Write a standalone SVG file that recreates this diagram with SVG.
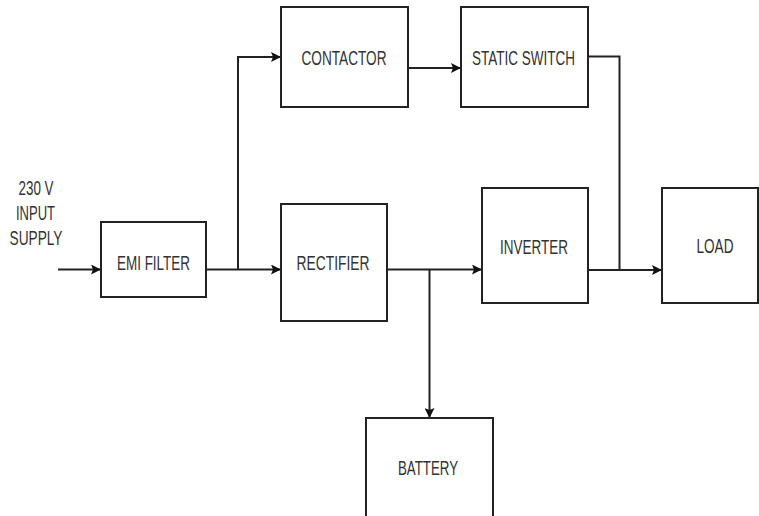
<svg xmlns="http://www.w3.org/2000/svg" width="759" height="516" viewBox="0 0 759 516">
<style>
.box{fill:#fff;stroke:#222;stroke-width:2}
.ln{fill:none;stroke:#222;stroke-width:2}
.t{font-family:"Liberation Sans",Arial,sans-serif;font-size:20px;fill:#333;text-anchor:middle}
</style>
<defs>
<marker id="ah" markerWidth="10" markerHeight="10" refX="9" refY="5" orient="auto" markerUnits="userSpaceOnUse">
<path d="M0,0 L10,5 L0,10 L2,5 Z" fill="#111"/>
</marker>
</defs>
<rect width="759" height="516" fill="#fff"/>
<g id="connectors">
<path class="ln" d="M58,269.5 H100" marker-end="url(#ah)"/>
<path class="ln" d="M206,269.5 H280" marker-end="url(#ah)"/>
<path class="ln" d="M238,269.5 V57 H280" marker-end="url(#ah)"/>
<path class="ln" d="M408,68 H460" marker-end="url(#ah)"/>
<path class="ln" d="M588,56.5 H619.5 V270"/>
<path class="ln" d="M387,269.5 H481" marker-end="url(#ah)"/>
<path class="ln" d="M429.5,269.5 V417" marker-end="url(#ah)"/>
<path class="ln" d="M588,270 H661" marker-end="url(#ah)"/>
</g>
<g id="input-label">
<text class="t" x="36" y="195" textLength="35" lengthAdjust="spacingAndGlyphs">230 V</text>
<text class="t" x="35.5" y="220" textLength="39" lengthAdjust="spacingAndGlyphs">INPUT</text>
<text class="t" x="36" y="245" textLength="53" lengthAdjust="spacingAndGlyphs">SUPPLY</text>
</g>
<g id="emi-filter">
<rect class="box" x="101" y="222" width="105" height="75"/>
<text class="t" x="153.5" y="270" textLength="73" lengthAdjust="spacingAndGlyphs">EMI FILTER</text>
</g>
<g id="contactor">
<rect class="box" x="281" y="7" width="127" height="100"/>
<text class="t" x="344" y="65" textLength="85" lengthAdjust="spacingAndGlyphs">CONTACTOR</text>
</g>
<g id="static-switch">
<rect class="box" x="461" y="7" width="127" height="100"/>
<text class="t" x="523.5" y="65" textLength="103" lengthAdjust="spacingAndGlyphs">STATIC SWITCH</text>
</g>
<g id="rectifier">
<rect class="box" x="281" y="204" width="106" height="117"/>
<text class="t" x="333" y="270" textLength="73" lengthAdjust="spacingAndGlyphs">RECTIFIER</text>
</g>
<g id="inverter">
<rect class="box" x="482" y="188" width="106" height="115"/>
<text class="t" x="534" y="254" textLength="68" lengthAdjust="spacingAndGlyphs">INVERTER</text>
</g>
<g id="load">
<rect class="box" x="662" y="188" width="96" height="115"/>
<text class="t" x="715" y="253" textLength="37" lengthAdjust="spacingAndGlyphs">LOAD</text>
</g>
<g id="battery">
<rect class="box" x="366" y="418" width="127" height="110"/>
<text class="t" x="428" y="475" textLength="60" lengthAdjust="spacingAndGlyphs">BATTERY</text>
</g>
</svg>
